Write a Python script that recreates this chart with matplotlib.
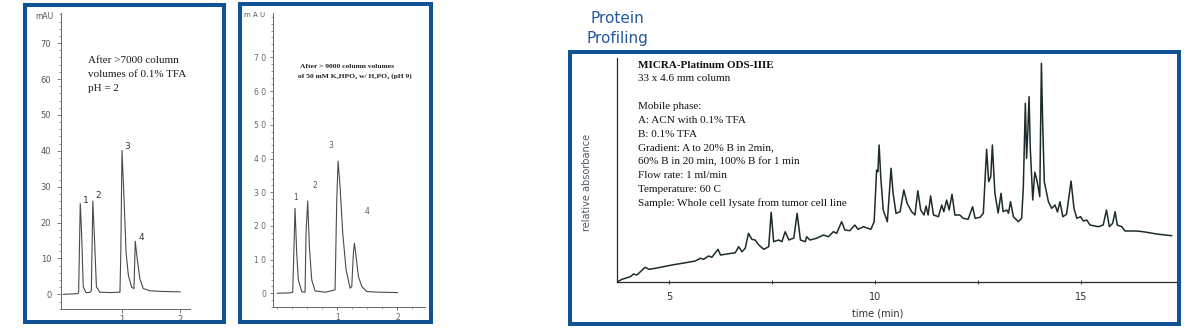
import matplotlib
matplotlib.use('Agg')
import matplotlib.pyplot as plt
from matplotlib.patches import Rectangle
from matplotlib.ticker import MultipleLocator

W, H = 1203, 332

# panel 1: after >7000 column volumes of 0.1% TFA
p1_time = [0.0, 0.25, 0.262, 0.29, 0.313, 0.341, 0.388, 0.45, 0.48, 0.505, 0.533,
           0.567, 0.624, 0.8, 0.97, 0.985, 1.005, 1.04, 1.074, 1.114, 1.17, 1.21,
           1.216, 1.232, 1.267, 1.313, 1.37, 1.48, 1.7, 2.0]
p1_mau = [0.0, 0.2, 0.5, 25.3, 17.0, 2.1, 0.5, 0.5, 1.0, 26.0, 15.8,
          2.1, 0.6, 0.5, 0.6, 12.0, 40.1, 26.6, 11.8, 5.3, 2.0, 1.6,
          5.0, 14.8, 9.7, 4.2, 1.6, 1.0, 0.8, 0.7]
p1_labels = ['1', '2', '3', '4']
p1_label_x = [0.38, 0.59, 1.1, 1.33]
p1_label_y = [25.0, 26.3, 40.0, 14.5]

# panel 2: after >9000 column volumes of phosphate buffer pH 9
p2_time = [0.0, 0.2, 0.256, 0.275, 0.295, 0.323, 0.35, 0.406, 0.462, 0.478, 0.506,
           0.534, 0.573, 0.628, 0.8, 0.962, 0.99, 1.012, 1.045, 1.09, 1.145, 1.212,
           1.24, 1.267, 1.284, 1.312, 1.35, 1.407, 1.49, 1.7, 2.0]
p2_mau = [0.0, 0.1, 0.3, 12.0, 25.2, 11.9, 4.0, 0.5, 0.3, 17.8, 27.4,
          13.8, 4.0, 0.7, 0.3, 1.0, 27.6, 39.2, 31.7, 17.8, 7.0, 1.5,
          2.0, 11.9, 14.8, 10.9, 5.0, 2.0, 0.5, 0.3, 0.2]
p2_labels = ['1', '2', '3', '4']
p2_label_x = [0.3, 0.62, 0.89, 1.49]
p2_label_y = [27.0, 30.6, 42.5, 23.0]

# panel 3: protein profiling of whole cell lysate
p3_time = [3.74, 3.86, 4.06, 4.14, 4.22, 4.42, 4.51, 4.67, 5.07, 5.32, 5.64, 5.76,
           5.84, 5.96, 6.04, 6.19, 6.25, 6.41, 6.61, 6.69, 6.77, 6.85, 6.93, 7.01,
           7.09, 7.18, 7.30, 7.42, 7.48, 7.54, 7.66, 7.74, 7.82, 7.91, 8.03, 8.11,
           8.19, 8.31, 8.34, 8.42, 8.58, 8.75, 8.87, 8.99, 9.07, 9.19, 9.27, 9.39,
           9.51, 9.59, 9.72, 9.90, 9.98, 10.04, 10.07, 10.10, 10.14, 10.20, 10.30, 10.39,
           10.44, 10.51, 10.61, 10.70, 10.78, 10.89, 10.97, 11.04, 11.11, 11.19, 11.24, 11.29,
           11.35, 11.42, 11.54, 11.62, 11.67, 11.74, 11.80, 11.87, 11.94, 12.06, 12.14, 12.26,
           12.37, 12.43, 12.55, 12.63, 12.71, 12.76, 12.81, 12.85, 12.91, 12.99, 13.06, 13.11,
           13.20, 13.24, 13.29, 13.36, 13.48, 13.56, 13.60, 13.65, 13.68, 13.71, 13.74, 13.77,
           13.83, 13.88, 13.92, 13.96, 14.00, 14.04, 14.07, 14.11, 14.21, 14.29, 14.37, 14.43,
           14.49, 14.56, 14.65, 14.76, 14.83, 14.90, 14.99, 15.06, 15.14, 15.22, 15.42, 15.54,
           15.62, 15.69, 15.77, 15.83, 15.88, 15.99, 16.07, 16.35, 16.51, 16.84, 17.20]
p3_abs = [1.0, 3.7, 6.3, 9.0, 8.0, 15.7, 13.7, 14.7, 18.0, 19.7, 22.0, 24.7,
          23.7, 27.0, 25.7, 33.7, 28.0, 29.0, 30.3, 36.3, 31.3, 34.7, 49.7, 43.7,
          43.0, 38.0, 33.7, 36.3, 70.7, 41.3, 43.0, 41.3, 51.3, 43.0, 45.0, 69.7,
          43.0, 41.3, 46.3, 43.0, 44.7, 48.0, 46.3, 51.3, 49.7, 61.3, 53.0, 52.3,
          58.0, 53.7, 56.3, 53.7, 61.3, 113.0, 111.3, 138.0, 106.0, 73.0, 61.3, 114.7,
          89.7, 69.7, 71.3, 93.0, 79.7, 71.3, 68.0, 92.3, 73.0, 68.0, 77.0, 68.0,
          87.0, 68.0, 66.3, 78.0, 71.3, 83.0, 73.0, 88.7, 68.0, 68.0, 64.7, 63.7,
          76.3, 64.7, 65.7, 69.7, 133.7, 101.3, 106.3, 138.0, 90.0, 70.0, 89.7, 71.3,
          73.0, 69.7, 81.3, 66.3, 61.3, 64.7, 94.7, 179.7, 124.7, 151.3, 186.3, 134.7,
          83.0, 110.7, 104.7, 96.3, 86.3, 219.7, 161.3, 101.3, 81.3, 74.7, 78.0, 71.0,
          81.3, 66.3, 68.7, 102.0, 74.7, 64.7, 66.3, 62.0, 63.0, 58.0, 56.3, 58.0,
          73.0, 56.3, 59.7, 71.3, 58.0, 56.3, 52.0, 52.0, 51.3, 49.0, 47.3]

p3_notes = ['33 x 4.6 mm column', '', 'Mobile phase:', 'A: ACN with 0.1% TFA',
            'B: 0.1% TFA', 'Gradient: A to 20% B in 2min,',
            '60% B in 20 min, 100% B for 1 min', 'Flow rate: 1 ml/min',
            'Temperature: 60 C', 'Sample: Whole cell lysate from tumor cell line']

blue = '#0f5394'
serif = ['Liberation Serif', 'DejaVu Serif']

fig = plt.figure(figsize=(W / 100, H / 100), dpi=100)


def fx(px):
    return px / W


def fy(py):
    return 1 - py / H


def box(x0, y0, x1, y1):
    fig.patches.append(Rectangle((fx(x0), fy(y1)), fx(x1 - x0), (y1 - y0) / H,
                                 transform=fig.transFigure, fill=False,
                                 edgecolor=blue, linewidth=2.9))


box(25.3, 5.3, 223.7, 322)
box(240, 3.5, 431, 322)
box(569.7, 52.3, 1179.3, 324.3)

# ---- panel 1
ax1 = fig.add_axes([fx(61), fy(308.7), fx(190 - 61), (308.7 - 13) / H])
ax1.plot(p1_time, p1_mau, color='#4a4a4a', lw=0.8)
ax1.set_xlim(-0.04, 2.17)
ax1.set_ylim(-4, 78.4)
for s in ['top', 'right']:
    ax1.spines[s].set_visible(False)
for s in ['left', 'bottom']:
    ax1.spines[s].set_color('#666666')
    ax1.spines[s].set_linewidth(0.7)
ax1.set_yticks(range(0, 80, 10))
ax1.yaxis.set_minor_locator(MultipleLocator(2))
ax1.set_xticks([1, 2])
ax1.tick_params(axis='both', which='major', labelsize=6, colors='#666666',
                labelcolor='#555555', length=3, width=0.6)
ax1.tick_params(axis='y', which='major', pad=4)
ax1.tick_params(axis='x', which='major', pad=1.5)
ax1.tick_params(axis='both', which='minor', length=1.8, width=0.5, colors='#777777')
for lab, x, y in zip(p1_labels, p1_label_x, p1_label_y):
    ax1.text(x, y, lab, fontsize=6.5, color='#333333', ha='center', va='bottom')
fig.text(fx(44), fy(16.7), 'mAU', fontsize=5.5, color='#555555', ha='center', va='center')
for i, line in enumerate(['After >7000 column', 'volumes of 0.1% TFA', 'pH = 2']):
    fig.text(fx(88.3), fy(63.3 + 13.8 * i), line, fontsize=8, family=serif,
             color='#1a1a1a', va='baseline')

# ---- panel 2
ax2 = fig.add_axes([fx(272.7), fy(306.7), fx(425 - 272.7), (306.7 - 13) / H])
ax2.plot(p2_time, p2_mau, color='#4a4a4a', lw=0.8)
ax2.set_xlim(-0.077, 2.46)
ax2.set_ylim(-4, 83.2)
for s in ['top', 'right']:
    ax2.spines[s].set_visible(False)
for s in ['left', 'bottom']:
    ax2.spines[s].set_color('#666666')
    ax2.spines[s].set_linewidth(0.7)
ax2.set_yticks(range(0, 80, 10))
ax2.set_yticklabels([' '.join(str(v)) for v in range(0, 80, 10)])
ax2.yaxis.set_minor_locator(MultipleLocator(2))
ax2.set_xticks([1, 2])
ax2.xaxis.set_minor_locator(MultipleLocator(0.25))
ax2.tick_params(axis='both', which='major', labelsize=5.5, colors='#666666',
                labelcolor='#666666', length=2.5, width=0.6, pad=2)
ax2.tick_params(axis='both', which='minor', length=1.5, width=0.5, colors='#777777')
for lab, x, y in zip(p2_labels, p2_label_x, p2_label_y):
    ax2.text(x, y, lab, fontsize=5.5, color='#555555', ha='center', va='bottom')
fig.text(fx(255), fy(15.3), 'm A U', fontsize=5, color='#555555', ha='center', va='center')
fig.text(fx(300), fy(67.7), 'After > 9000 column volumes', fontsize=5.4, family=serif,
         weight='bold', color='#222222', va='baseline')
fig.text(fx(298.3), fy(77.3), 'of 50 mM K\u2082HPO\u2084 w/ H\u2083PO\u2084 (pH 9)', fontsize=5.4,
         family=serif, weight='bold', color='#222222', va='baseline')

# ---- panel 3
ax3 = fig.add_axes([fx(616.7), fy(281.5), fx(1175.7 - 616.7), (281.5 - 58) / H])
ax3.plot(p3_time, p3_abs, color='#1c2b2b', lw=1.1)
ax3.set_xlim(3.73, 17.30)
ax3.set_ylim(1.5, 225)
for s in ['top', 'right']:
    ax3.spines[s].set_visible(False)
for s in ['left', 'bottom']:
    ax3.spines[s].set_color('#2a2a2a')
    ax3.spines[s].set_linewidth(0.9)
ax3.set_yticks([])
ax3.set_xticks([5, 7.5, 10, 12.5, 15])
ax3.set_xticklabels(['5', '', '10', '', '15'])
ax3.tick_params(axis='x', labelsize=7, colors='#333333', length=3, width=0.7,
                direction='inout', pad=6)
fig.text(fx(877.7), fy(314), 'time (min)', fontsize=7, color='#333333',
         ha='center', va='center')
fig.text(fx(587), fy(182.5), 'relative absorbance', fontsize=7, color='#4b5866',
         rotation=90, ha='center', va='center')
fig.text(fx(638.3), fy(67.7), 'MICRA-Platinum ODS-IIIE', fontsize=8, family=serif,
         weight='bold', color='#111111', va='baseline')
for i, line in enumerate(p3_notes):
    fig.text(fx(638.3), fy(81.5 + 13.8 * i), line, fontsize=8, family=serif,
             color='#111111', va='baseline')

# heading above the right panel
fig.text(fx(617.5), fy(22.7), 'Protein', fontsize=11, color='#24589a',
         ha='center', va='baseline')
fig.text(fx(617.5), fy(42.7), 'Profiling', fontsize=11, color='#24589a',
         ha='center', va='baseline')
fig.text(fx(860), 1 + 2 / H, '(RP)', fontsize=13, color='#24589a',
         ha='center', va='baseline')

fig.savefig('out.png', dpi=100)
